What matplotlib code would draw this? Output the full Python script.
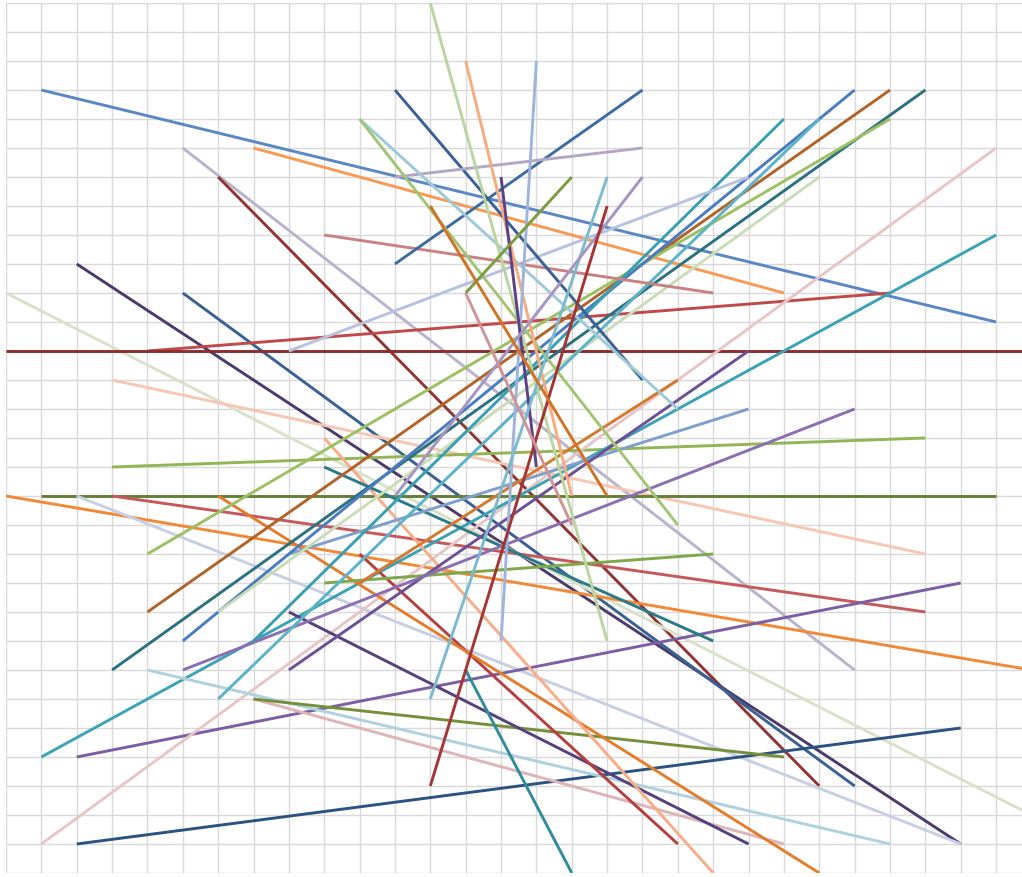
import matplotlib
matplotlib.use("Agg")
import matplotlib.pyplot as plt
import numpy as np

# segment end points in grid units (x: columns, y: rows from the bottom)
x_start = [1, 7, 5, 6, 2, 5, 0, 4, 0, 3,
           3, 1, 0, 2, 3, 2, 2, 1, 1, 4,
           7, 7, 8, 10, 6, 9, 13, 9, 9, 8,
           8, 5, 10, 3, 4, 4, 5, 6, 7, 6,
           8, 9, 11, 11, 11, 10, 10, 12, 13, 15,
           14, 16, 17, 18, 17, 13, 12]
y_start = [27, 25, 25, 24, 21, 20, 20, 18, 18, 17,
           14, 13, 13, 13, 13, 4, 1, 1, 4, 7,
           6, 6, 9, 11, 13, 15, 7, 14, 10, 11,
           7, 7, 10, 7, 9, 11, 8, 9, 8, 6,
           18, 22, 21, 27, 24, 26, 26, 30, 28, 28,
           24, 24, 24, 24, 23, 20, 23]
x_end = [28, 22, 24, 23, 27, 24, 29, 25, 29, 26,
         26, 28, 29, 27, 26, 27, 27, 28, 28, 25,
         22, 22, 21, 19, 23, 20, 16, 20, 20, 21,
         21, 24, 19, 26, 25, 25, 24, 23, 22, 23,
         21, 20, 18, 18, 18, 19, 19, 17, 16, 14,
         15, 13, 12, 11, 12, 16, 17]
y_end = [19, 20, 7, 3, 1, 3, 2, 20, 18, 11,
         15, 13, 7, 1, 9, 10, 5, 25, 22, 1,
         1, 4, 1, 1, 0, 0, 0, 8, 11, 16,
         18, 16, 17, 27, 27, 26, 27, 24, 26, 26,
         24, 20, 27, 17, 25, 16, 12, 8, 13, 8,
         14, 20, 6, 13, 3, 12, 13]

colors = ["#5b87c5", "#f79a55", "#b9b3cc", "#8f3535", "#4b3b6b",
          "#3a6194", "#d7e2c8", "#c0494a", "#8a2e2e", "#f6c8b4",
          "#92b655", "#647f38", "#f08a38", "#c8cfe3", "#c45a5c",
          "#7b5ea3", "#2c5282", "#e6c6c6", "#3ca3b6", "#b0d2de",
          "#ddb4b8", "#76903a", "#55417c", "#b54040", "#e27d2c",
          "#f6ad88", "#2f8c9b", "#2b7a86", "#7fa84a", "#7f9fcc",
          "#6e5096", "#8a70b0", "#d47a30", "#2b727e", "#b0642a",
          "#9cc063", "#4a7cc0", "#cbdcb8", "#3a9fb0", "#5cb2c9",
          "#b8c2de", "#c98284", "#3d6ca3", "#3a6096", "#b2a8c6",
          "#9ecad8", "#a3c474", "#bcd5a0", "#f7ab7e", "#9fb4da",
          "#5c4185", "#7b9c41", "#7cbacd", "#a595c2", "#a33535",
          "#cf9495", "#d17325"]

fig = plt.figure(figsize=(10.22, 8.77), dpi=100)
ax = fig.add_axes([6 / 1022, 4 / 877, 1016 / 1022, 870 / 877])

for xs, ys, xe, ye, c in zip(x_start, y_start, x_end, y_end, colors):
    ax.plot([xs, xe], [ys, ye], color=c, linewidth=2.1, solid_capstyle="butt")

# ticks first: set_xticks would otherwise widen the view
ax.set_xticks(np.arange(0, 29))
ax.set_yticks(np.arange(0, 31))
ax.set_xlim(0, 1016 / 35.36)
ax.set_ylim(0, 30)
ax.grid(True, color="#d9d9d9", linewidth=1.0)
ax.set_axisbelow(True)
ax.tick_params(length=0, labelbottom=False, labelleft=False)
for s in ax.spines.values():
    s.set_visible(False)

fig.savefig("out.png", dpi=100)
